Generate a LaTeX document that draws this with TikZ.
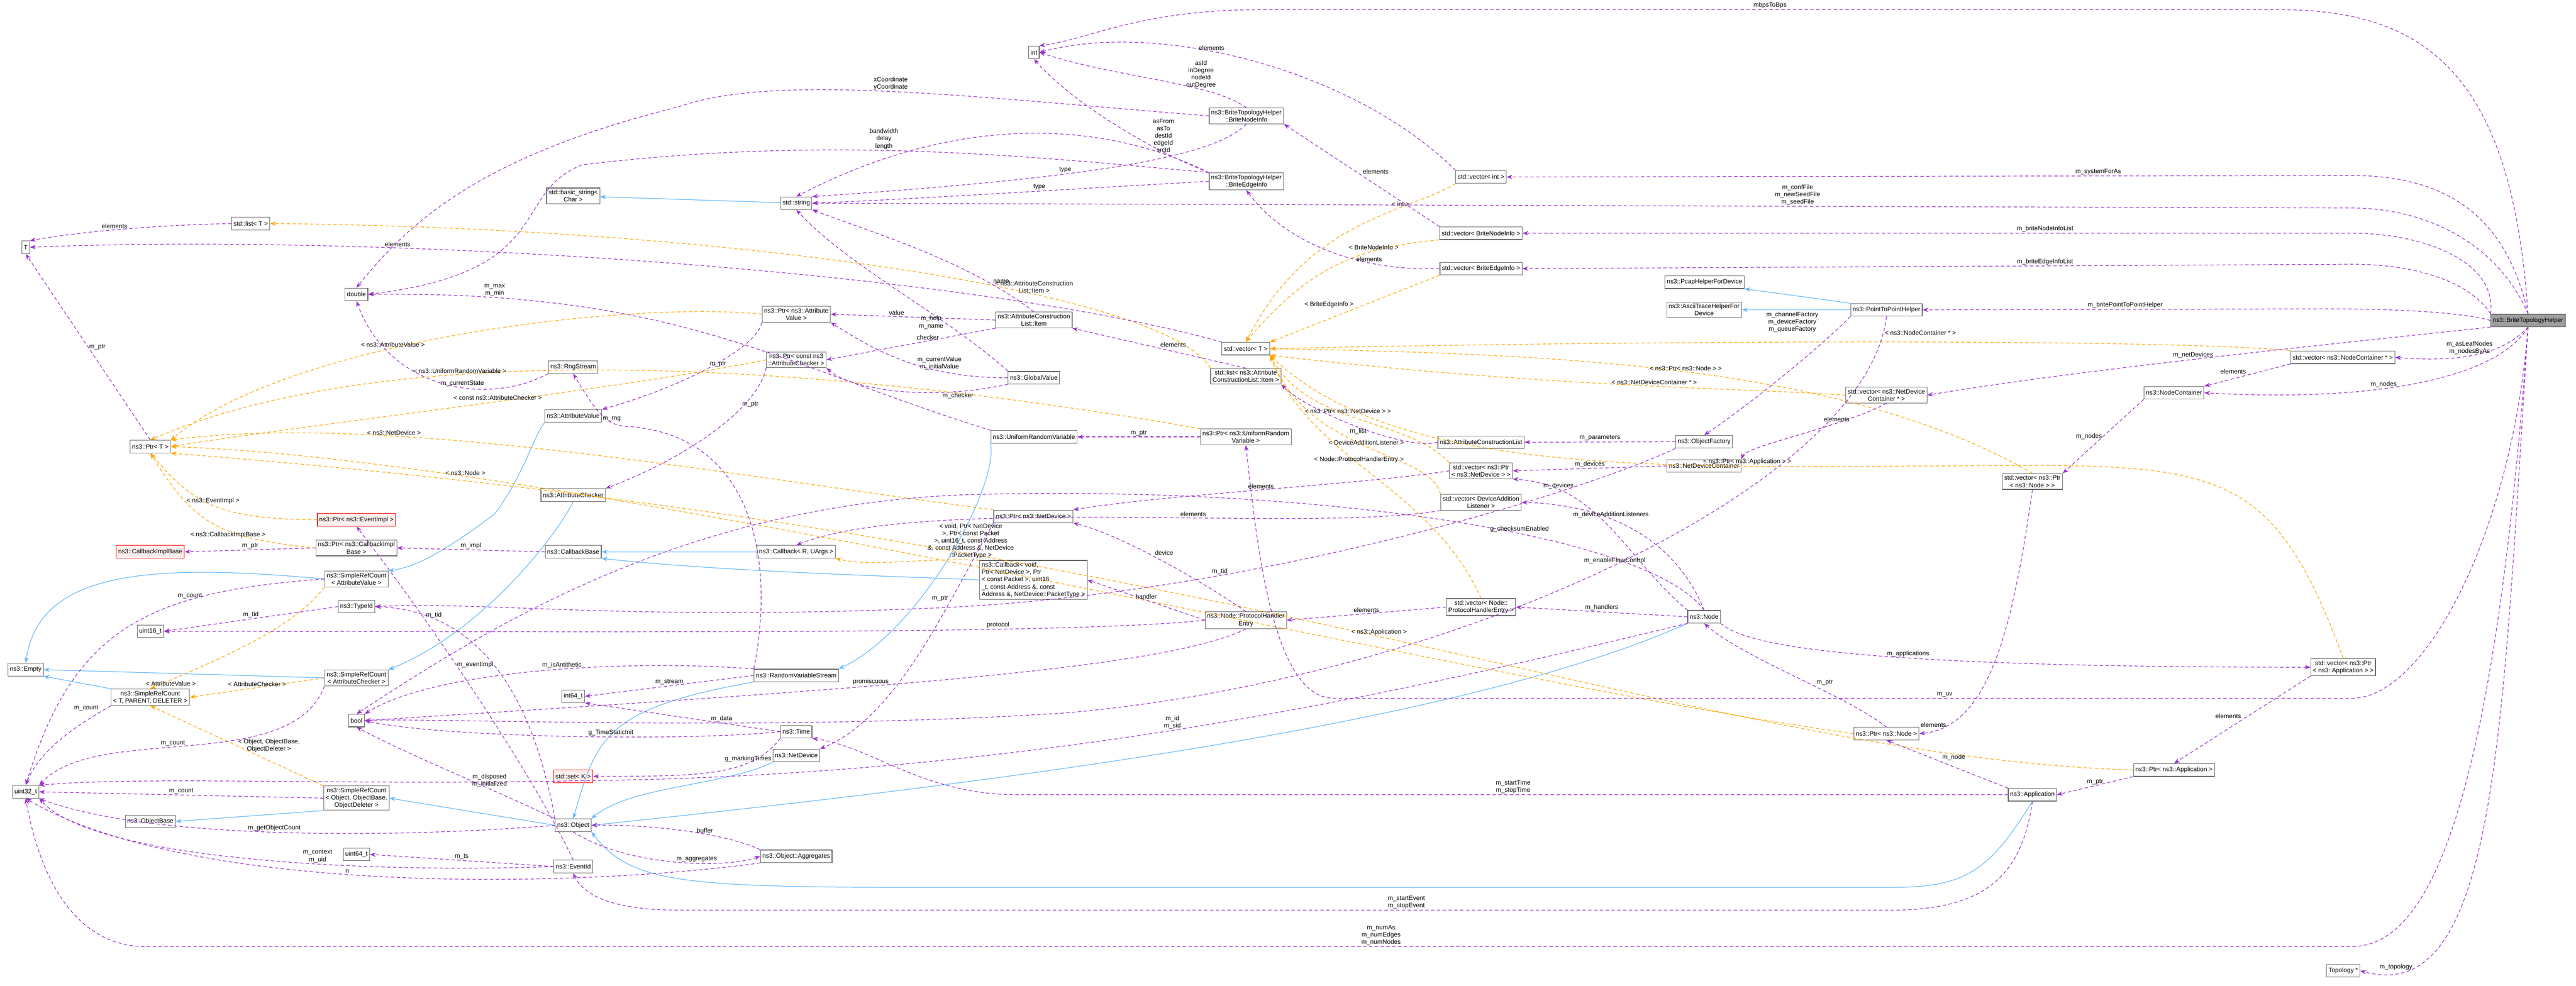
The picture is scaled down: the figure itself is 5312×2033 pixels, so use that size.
\documentclass[tikz,border=0pt]{standalone}
\usepackage{fontspec}
\setmainfont{Liberation Sans}
\usetikzlibrary{arrows.meta}
\definecolor{usec}{HTML}{9A32CD}
\definecolor{tmplc}{HTML}{FFA500}
\definecolor{inhc}{HTML}{63B8FF}
\begin{document}
\begin{tikzpicture}[x=1pt,y=-1pt,font=\fontsize{13}{15}\selectfont,
 box/.style={draw=black!60,fill=white,line width=1.2pt,minimum height=26pt,inner sep=4pt,align=center},
 redbox/.style={box,draw=red,fill=red!6},
 use/.style={draw=usec,line width=1.3pt,dash pattern=on 7pt off 5pt,-{Stealth[length=12pt,width=9pt]}},
 tmpl/.style={draw=tmplc,line width=1.3pt,dash pattern=on 7pt off 5pt,-{Stealth[length=12pt,width=9pt]}},
 inh/.style={draw=inhc,line width=1.3pt,-{Stealth[length=12pt,width=9pt]}},
 lbl/.style={inner sep=2pt,align=center,fill=none}]
\useasboundingbox (0,0) rectangle (5312,2033);
% nodes
\node[box,fill=black!38] (bth) at (5213,661) {ns3::BriteTopologyHelper};
\node[box] (int) at (2132,108) {int};
\node[box] (bni) at (2570,239) {ns3::BriteTopologyHelper\\::BriteNodeInfo};
\node[box] (bei) at (2570,374) {ns3::BriteTopologyHelper\\::BriteEdgeInfo};
\node[box] (vint) at (3054,365) {std::vector< int >};
\node[box] (vbni) at (3054,481) {std::vector< BriteNodeInfo >};
\node[box] (vbei) at (3054,554) {std::vector< BriteEdgeInfo >};
\node[box] (pcap) at (3515,582) {ns3::PcapHelperForDevice};
\node[box] (ascii) at (3514,639) {ns3::AsciiTraceHelperFor\\Device};
\node[box] (p2p) at (3890,639) {ns3::PointToPointHelper};
\node[box] (vnc) at (4831,737) {std::vector< ns3::NodeContainer * >};
\node[box] (nc) at (4483,810) {ns3::NodeContainer};
\node[box] (vndc) at (3890,815) {std::vector< ns3::NetDevice\\Container * >};
\node[box] (vpnode) at (4191,993) {std::vector< ns3::Ptr\\< ns3::Node > >};
\node[box] (vpapp) at (4832,1376) {std::vector< ns3::Ptr\\< ns3::Application > >};
\node[box] (pnode) at (3890,1513) {ns3::Ptr< ns3::Node >};
\node[box] (papp) at (4483,1588) {ns3::Ptr< ns3::Application >};
\node[box] (app) at (4191,1639) {ns3::Application};
\node[box] (topo) at (4832,2002) {Topology *};
\node[box] (T) at (53,510) {T};
\node[box] (listT) at (517,461) {std::list< T >};
\node[box] (dbl) at (735,607) {double};
\node[box] (bstr) at (1182,404) {std::basic\_string<\\Char >};
\node[box] (str) at (1642,419) {std::string};
\node[box] (pav) at (1642,648) {ns3::Ptr< ns3::Attribute\\Value >};
\node[box] (pac) at (1642,742) {ns3::Ptr< const ns3\\::AttributeChecker >};
\node[box] (rng) at (1182,757) {ns3::RngStream};
\node[box] (av) at (1182,858) {ns3::AttributeValue};
\node[box] (ptrT) at (310,921) {ns3::Ptr< T >};
\node[box] (ac) at (1182,1021) {ns3::AttributeChecker};
\node[redbox] (pev) at (735,1072) {ns3::Ptr< ns3::EventImpl >};
\node[redbox] (cib) at (310,1138) {ns3::CallbackImplBase};
\node[box] (pcib) at (735,1130) {ns3::Ptr< ns3::CallbackImpl\\Base >};
\node[box] (cbb) at (1182,1138) {ns3::CallbackBase};
\node[box] (cbr) at (1642,1138) {ns3::Callback< R, UArgs >};
\node[box] (srcav) at (735,1194) {ns3::SimpleRefCount\\< AttributeValue >};
\node[box] (tid) at (735,1251) {ns3::TypeId};
\node[box] (u16) at (310,1302) {uint16\_t};
\node[box] (empty) at (53,1381) {ns3::Empty};
\node[box] (srct) at (310,1438) {ns3::SimpleRefCount\\< T, PARENT, DELETER >};
\node[box] (srcac) at (735,1398) {ns3::SimpleRefCount\\< AttributeChecker >};
\node[box] (rvs) at (1642,1393) {ns3::RandomVariableStream};
\node[box] (i64) at (1182,1436) {int64\_t};
\node[box] (bool) at (735,1486) {bool};
\node[box] (time) at (1642,1509) {ns3::Time};
\node[box] (nd) at (1642,1558) {ns3::NetDevice};
\node[redbox] (set) at (1182,1601) {std::set< K >};
\node[box] (u32) at (53,1633) {uint32\_t};
\node[box] (srco) at (735,1646) {ns3::SimpleRefCount\\< Object, ObjectBase,\\ObjectDeleter >};
\node[box] (objb) at (310,1694) {ns3::ObjectBase};
\node[box] (obj) at (1182,1702) {ns3::Object};
\node[box] (agg) at (1642,1766) {ns3::Object::Aggregates};
\node[box] (u64) at (735,1762) {uint64\_t};
\node[box] (eid) at (1182,1787) {ns3::EventId};
\node[box] (item) at (2132,660) {ns3::AttributeConstruction\\List::Item};
\node[box] (vT) at (2569,719) {std::vector< T >};
\node[box] (gv) at (2132,779) {ns3::GlobalValue};
\node[box] (litem) at (2569,776) {std::list< ns3::Attribute\\ConstructionList::Item >};
\node[box] (urv) at (2132,901) {ns3::UniformRandomVariable};
\node[box] (purv) at (2569,901) {ns3::Ptr< ns3::UniformRandom\\Variable >};
\node[box] (acl) at (3054,912) {ns3::AttributeConstructionList};
\node[box] (of) at (3514,911) {ns3::ObjectFactory};
\node[box] (ndc) at (3514,961) {ns3::NetDeviceContainer};
\node[box] (vpnd) at (3054,971) {std::vector< ns3::Ptr\\< ns3::NetDevice > >};
\node[box] (pnd) at (2131,1065) {ns3::Ptr< ns3::NetDevice >};
\node[box] (vdal) at (3054,1036) {std::vector< DeviceAddition\\Listener >};
\node[box,align=left] (cbv) at (2131,1196) {ns3::Callback< void,\\ Ptr< NetDevice >, Ptr\\< const Packet >, uint16\\\_t, const Address \&, const\\ Address \&, NetDevice::PacketType >};
\node[box] (phe) at (2569,1279) {ns3::Node::ProtocolHandler\\Entry};
\node[box] (vphe) at (3054,1252) {std::vector< Node::\\ProtocolHandlerEntry >};
\node[box] (node) at (3514,1272) {ns3::Node};
% inheritance
\draw[inh] (str) -- (bstr);
\draw[inh] (av.south west) .. controls (1100,900) and (1080,980) .. (1020,1060) .. controls (900,1150) and (850,1170) .. (srcav.north east);
\draw[inh] (ac.south) .. controls (1150,1100) and (1000,1300) .. (srcac.north east);
\draw[inh] (srcav.west) .. controls (300,1160) and (80,1180) .. (empty.north);
\draw[inh] (srcac.west) -- (empty.east);
\draw[inh] (srct.north west) -- (empty.south east);
\draw[inh] (srco.south west) -- (objb.east);
\draw[inh] (obj.west) -- (srco.east);
\draw[inh] (cbr.west) -- (cbb.east);
\draw[inh] (cbv.west) .. controls (1900,1190) and (1500,1180) .. (cbb.south east);
\draw[inh] (rvs.south west) .. controls (1250,1460) and (1230,1520) .. (obj.north);
\draw[inh] (urv.south west) .. controls (2060,1000) and (1900,1300) .. (rvs.north east);
\draw[inh] (nd.south west) .. controls (1500,1620) and (1300,1620) .. (obj.north east);
\draw[inh] (node.south west) .. controls (3000,1500) and (2000,1620) .. (obj.east);
\draw[inh] (app.south) .. controls (4100,1800) and (4050,1830) .. (3900,1830) -- (1900,1830) .. controls (1400,1830) and (1300,1820) .. (obj.south east);
\draw[inh] (p2p.north west) -- (pcap.south east);
\draw[inh] (p2p.west) -- (ascii.east);
% template instantiations
\draw[tmpl] (vint.south west) .. controls (2900,440) and (2700,450) .. node[lbl,above,pos=0.3]{< int >} (vT.north);
\draw[tmpl] (vbni.south west) .. controls (2800,510) and (2700,550) .. node[lbl,above,pos=0.3]{< BriteNodeInfo >} (vT.north);
\draw[tmpl] (vbei.south west) -- node[lbl,above left,pos=0.5]{< BriteEdgeInfo >} (vT.north east);
\draw[tmpl] (vnc.north west) .. controls (4500,700) and (3500,700) .. (vT.east);
\node[lbl] (nclbl) at (3960,686) {< ns3::NodeContainer * >};
\draw[tmpl] (vpnode.north) .. controls (3800,750) and (3200,730) .. node[lbl,above,pos=0.5]{< ns3::Ptr< ns3::Node > >} (vT.east);
\draw[tmpl] (vndc.west) .. controls (3600,800) and (3200,800) .. node[lbl,above,pos=0.45]{< ns3::NetDeviceContainer * >} (vT.south east);
\draw[tmpl] (vpnd.north west) .. controls (2900,860) and (2700,880) .. node[lbl,above,pos=0.55]{< ns3::Ptr< ns3::NetDevice > >} (vT.south east);
\draw[tmpl] (vdal.north west) .. controls (2950,930) and (2700,940) .. node[lbl,above,pos=0.5]{< DeviceAdditionListener >} (vT.south east);
\draw[tmpl] (vphe.north) .. controls (2950,1000) and (2700,950) .. node[lbl,above,pos=0.55]{< Node::ProtocolHandlerEntry >} (vT.south east);
\draw[tmpl] (vpapp.north) .. controls (4700,1000) and (4600,960) .. (4200,960) .. controls (3500,960) and (2900,1000) .. node[lbl,above,pos=0.3]{< ns3::Ptr< ns3::Application > >} (vT.south east);
\draw[tmpl] (litem.north west) .. controls (2400,600) and (1500,470) .. node[lbl,above,pos=0.35]{< ns3::AttributeConstruction\\List::Item >} (listT.east);
\draw[tmpl] (pav.west) .. controls (1300,620) and (600,700) .. node[lbl,above,pos=0.6]{< ns3::AttributeValue >} (ptrT.north east);
\draw[tmpl] (pac.west) .. controls (1300,800) and (600,880) .. node[lbl,above,pos=0.45]{< const ns3::AttributeChecker >} (ptrT.east);
\draw[tmpl] (purv.north west) .. controls (2000,800) and (900,650) .. node[lbl,above,pos=0.7]{< ns3::UniformRandomVariable >} (ptrT.north);
\draw[tmpl] (pnd.north west) .. controls (1500,980) and (800,850) .. node[lbl,above,pos=0.7]{< ns3::NetDevice >} (ptrT.north east);
\draw[tmpl] (pnode.west) .. controls (3000,1400) and (1200,950) .. node[lbl,above,pos=0.8]{< ns3::Node >} (ptrT.east);
\draw[tmpl] (papp.west) .. controls (3500,1560) and (2500,1100) .. node[lbl,above,pos=0.5]{< ns3::Application >} (ptrT.south east);
\draw[tmpl] (pev.west) .. controls (450,1070) and (400,1040) .. node[lbl,above,pos=0.5]{< ns3::EventImpl >} (ptrT.south);
\draw[tmpl] (pcib.west) .. controls (450,1110) and (400,1080) .. node[lbl,below,pos=0.4]{< ns3::CallbackImplBase >} (ptrT.south);
\draw[tmpl] (srcav.south west) .. controls (600,1300) and (450,1360) .. node[lbl,below,pos=0.9]{< AttributeValue >} (srct.north);
\draw[tmpl] (srcac.west) -- node[lbl,above]{< AttributeChecker >} (srct.east);
\draw[tmpl] (srco.north west) -- node[lbl,right,pos=0.5]{< Object, ObjectBase,\\ObjectDeleter >} (srct.south);
\draw[tmpl] (cbv.north west) .. controls (1900,1150) and (1800,1170) .. node[lbl,above,pos=0.05]{< void, Ptr< NetDevice\\>, Ptr< const Packet\\>, uint16\_t, const Address\\\&, const Address \&, NetDevice\\::PacketType >} (cbr.south east);
% usage from BriteTopologyHelper
\draw[use] (bth.north) .. controls (5180,150) and (5000,20) .. (4700,20) -- node[lbl,above]{mbpsToBps} (2600,20) .. controls (2350,20) and (2250,80) .. (int.north east);
\draw[use] (bth.north) .. controls (5170,450) and (5050,362) .. (4850,362) -- node[lbl,above,pos=0.3]{m\_systemForAs} (vint.east);
\draw[use] (bth.north) .. controls (5150,500) and (5000,429) .. (4850,429) -- node[lbl,above,pos=0.36]{m\_confFile\\m\_newSeedFile\\m\_seedFile} (str.east);
\draw[use] (bth.north west) .. controls (5150,540) and (5000,481) .. (4850,481) -- node[lbl,above,pos=0.37]{m\_briteNodeInfoList} (vbni.east);
\draw[use] (bth.north west) .. controls (5100,590) and (5000,545) .. (4850,545) -- node[lbl,above,pos=0.37]{m\_briteEdgeInfoList} (vbei.east);
\draw[use] (bth.west) .. controls (5100,650) and (5000,637) .. (4800,637) -- node[lbl,above]{m\_britePointToPointHelper} (p2p.east);
\draw[use] (bth.south west) .. controls (4900,700) and (4300,760) .. node[lbl,above,pos=0.55]{m\_netDevices} (vndc.east);
\draw[use] (bth.south) .. controls (5170,720) and (5100,750) .. node[lbl,above,pos=0.6]{m\_asLeafNodes\\m\_nodesByAs} (vnc.east);
\draw[use] (bth.south) .. controls (5150,780) and (4900,830) .. node[lbl,above,pos=0.6]{m\_nodes} (nc.east);
\draw[use] (bth.south) .. controls (5180,1100) and (5000,1440) .. (4850,1440) -- node[lbl,above,pos=0.4]{m\_uv} (2750,1440) .. controls (2620,1440) and (2590,1100) .. (purv.south);
\draw[use] (bth.south) .. controls (5140,1700) and (5000,1952) .. (4850,1952) -- node[lbl,above,pos=0.44]{m\_numAs\\m\_numEdges\\m\_numNodes} (300,1952) .. controls (150,1952) and (80,1800) .. (u32.south);
\draw[use] (bth.south) .. controls (5160,1500) and (5150,2080) .. node[lbl,left,pos=0.85]{m\_topology} (topo.east);
% application & node side
\draw[use] (app.west) -- node[lbl,above,pos=0.5]{m\_startTime\\m\_stopTime} (2100,1639) .. controls (1900,1639) and (1800,1540) .. (time.south east);
\draw[use] (app.south) .. controls (4170,1800) and (4100,1877) .. (3900,1877) -- node[lbl,above,pos=0.4]{m\_startEvent\\m\_stopEvent} (1400,1877) .. controls (1250,1877) and (1200,1840) .. (eid.south);
\draw[use] (app.north west) -- node[lbl,above right,pos=0.55]{m\_node} (pnode.south);
\draw[use] (papp.south west) -- node[lbl,above]{m\_ptr} (app.east);
\draw[use] (vpapp.south west) -- node[lbl,above left]{elements} (papp.north);
\draw[use] (node.south east) .. controls (3600,1330) and (3800,1376) .. node[lbl,above,pos=0.6]{m\_applications} (vpapp.west);
\draw[use] (pnode.north) .. controls (3800,1430) and (3600,1360) .. node[lbl,above right,pos=0.4]{m\_ptr} (node.south);
\draw[use] (vpnode.south) .. controls (4150,1300) and (4100,1500) .. node[lbl,left,pos=0.85]{elements} (pnode.east);
\draw[use] (nc.south west) -- node[lbl,left]{m\_nodes} (vpnode.north east);
\draw[use] (vnc.south west) -- node[lbl,above left]{elements} (nc.north east);
\draw[use] (vndc.south) .. controls (3800,880) and (3600,920) .. node[lbl,above,pos=0.3]{elements} (ndc.north east);
\draw[use] (ndc.west) -- node[lbl,above]{m\_devices} (vpnd.east);
\draw[use] (node.north west) .. controls (3350,1150) and (3300,1000) .. node[lbl,above,pos=0.8]{m\_devices} (vpnd.south east);
\draw[use] (vpnd.west) .. controls (2800,1000) and (2400,1020) .. node[lbl,above,pos=0.5]{elements} (pnd.north east);
\draw[use] (pnd.south west) .. controls (1950,1250) and (1850,1480) .. node[lbl,above left,pos=0.3]{m\_ptr} (nd.north east);
\draw[use] (p2p.south west) .. controls (3750,720) and (3600,840) .. (of.north);
\node[lbl] (cflbl) at (3696,664) {m\_channelFactory\\m\_deviceFactory\\m\_queueFactory};
\draw[use] (of.west) -- node[lbl,above]{m\_parameters} (acl.east);
\draw[use] (of.south west) .. controls (3300,1000) and (2600,1230) .. node[lbl,above,pos=0.7]{m\_tid} (1900,1255) .. controls (1300,1280) and (1000,1240) .. (tid.east);
\draw[use] (acl.west) .. controls (2900,930) and (2700,850) .. node[lbl,below,pos=0.5]{m\_list} (litem.south east);
\draw[use] (litem.north) -- node[lbl,above right]{elements} (item.south east);
\draw[use] (item.north) .. controls (2000,540) and (1800,480) .. node[lbl,above right,pos=0.2]{name} (str.south east);
\draw[use] (item.west) -- node[lbl,above,pos=0.6]{value} (pav.east);
\draw[use] (item.south west) -- node[lbl,above,pos=0.4]{checker} (pac.east);
\draw[use] (gv.north west) .. controls (1950,650) and (1750,550) .. node[lbl,left,pos=0.3]{m\_help\\m\_name} (str.south);
\draw[use] (gv.west) .. controls (1900,780) and (1800,720) .. node[lbl,above,pos=0.3]{m\_currentValue\\m\_initialValue} (pav.south east);
\draw[use] (gv.south west) .. controls (1900,830) and (1750,800) .. node[lbl,below,pos=0.2]{m\_checker} (pac.south east);
\draw[use] (pav.south west) .. controls (1560,720) and (1400,800) .. node[lbl,above right,pos=0.5]{m\_ptr} (av.north east);
\draw[use] (pac.south west) .. controls (1560,850) and (1400,950) .. node[lbl,above right,pos=0.3]{m\_ptr} (ac.north east);
\draw[use] (urv.north west) .. controls (1600,750) and (1400,600) .. node[lbl,above,pos=0.85]{m\_max\\m\_min} (dbl.east);
\draw[use] (purv.west) -- node[lbl,above]{m\_ptr} (urv.east);
\draw[use] (rng.south west) .. controls (1000,840) and (800,800) .. node[lbl,above,pos=0.4]{m\_currentState} (dbl.south);
\draw[use] (rvs.north west) .. controls (1600,1150) and (1550,900) .. (1300,880) .. controls (1250,880) and (1230,850) .. node[lbl,above,pos=0.3]{m\_rng} (rng.south);
\draw[use] (rvs.west) -- node[lbl,above]{m\_stream} (i64.east);
\draw[use] (rvs.north west) .. controls (1300,1360) and (900,1380) .. node[lbl,above,pos=0.45]{m\_isAntithetic} (bool.north east);
\draw[use] (time.west) -- node[lbl,above,pos=0.3]{m\_data} (i64.south east);
\draw[use] (time.west) .. controls (1400,1530) and (900,1520) .. node[lbl,above,pos=0.4]{g\_TimeStaticInit} (bool.east);
\draw[use] (time.south west) .. controls (1550,1600) and (1450,1601) .. node[lbl,above,pos=0.3]{g\_markingTimes} (set.east);
\draw[use] (phe.south) .. controls (2400,1380) and (1800,1420) .. node[lbl,above,pos=0.6]{promiscuous} (bool.east);
\draw[use] (node.north) .. controls (3400,1100) and (2700,1000) .. node[lbl,above,pos=0.4]{g\_checksumEnabled} (2000,1020) .. controls (1400,1040) and (1000,1300) .. (bool.north);
\draw[use] (p2p.south) .. controls (3850,1000) and (3000,1400) .. node[lbl,above,pos=0.5]{m\_enableFlowControl} (2200,1470) .. controls (1600,1510) and (900,1480) .. (bool.east);
\draw[use] (phe.west) .. controls (2200,1310) and (1200,1302) .. node[lbl,above,pos=0.3]{protocol} (u16.east);
\draw[use] (phe.north) .. controls (2450,1180) and (2300,1100) .. node[lbl,above right,pos=0.5]{device} (pnd.south east);
\draw[use] (phe.west) -- node[lbl,above]{handler} (cbv.east);
\draw[use] (vphe.west) -- node[lbl,above]{elements} (phe.east);
\draw[use] (node.west) -- node[lbl,above]{m\_handlers} (vphe.east);
\draw[use] (node.north) .. controls (3450,1100) and (3300,1040) .. node[lbl,above,pos=0.6]{m\_deviceAdditionListeners} (vdal.east);
\draw[use] (node.south west) .. controls (3000,1400) and (2200,1600) .. node[lbl,above,pos=0.55]{m\_id\\m\_sid} (1200,1610) .. controls (700,1620) and (300,1600) .. (u32.north east);
\draw[use] (vdal.south west) .. controls (2700,1100) and (1900,1020) .. node[lbl,above,pos=0.4]{elements} (cbr.north);
\draw[use] (cbb.west) -- node[lbl,above]{m\_impl} (pcib.east);
\draw[use] (pcib.west) -- node[lbl,above]{m\_ptr} (cib.east);
\draw[use] (eid.north) .. controls (1100,1600) and (900,1300) .. node[lbl,right,pos=0.6]{m\_eventImpl} (pev.south);
\draw[use] (eid.west) -- node[lbl,above]{m\_ts} (u64.east);
\draw[use] (eid.west) .. controls (800,1800) and (200,1780) .. node[lbl,above,pos=0.4]{m\_context\\m\_uid} (u32.south east);
\draw[use] (obj.north west) .. controls (1000,1620) and (850,1560) .. node[lbl,right,pos=0.4]{m\_disposed\\m\_initialized} (bool.south);
\draw[use] (obj.west) .. controls (800,1730) and (300,1730) .. node[lbl,above,pos=0.5]{m\_getObjectCount} (u32.south east);
\draw[use] (obj.south) .. controls (1300,1790) and (1500,1790) .. node[lbl,above,pos=0.6]{m\_aggregates} (agg.west);
\draw[use] (agg.north west) .. controls (1500,1720) and (1350,1700) .. node[lbl,above,pos=0.4]{buffer} (obj.east);
\draw[use] (agg.south west) .. controls (1200,1830) and (400,1850) .. node[lbl,above,pos=0.55]{n} (u32.south);
\draw[use] (srcav.west) .. controls (300,1220) and (150,1300) .. node[lbl,above,pos=0.3]{m\_count} (u32.north);
\draw[use] (srct.south west) .. controls (150,1500) and (80,1550) .. node[lbl,above left,pos=0.1]{m\_count} (u32.north);
\draw[use] (srcac.south west) .. controls (600,1600) and (200,1490) .. node[lbl,above,pos=0.55]{m\_count} (u32.north east);
\draw[use] (srco.west) -- node[lbl,above]{m\_count} (u32.east);
\draw[use] (tid.west) -- node[lbl,above]{m\_tid} (u16.east);
\draw[use] (obj.north west) .. controls (1100,1450) and (1000,1260) .. node[lbl,above,pos=0.8]{m\_tid} (tid.east);
\draw[use] (ptrT.north) -- node[lbl,right]{m\_ptr} (T.south);
\draw[use] (listT.west) .. controls (300,465) and (150,480) .. node[lbl,above]{elements} (T.north east);
\draw[use] (vT.north west) .. controls (2000,560) and (800,480) .. node[lbl,above,pos=0.7]{elements} (T.east);
\draw[use] (bni.north) .. controls (2500,170) and (2300,160) .. node[lbl,above,pos=0.3]{asId\\inDegree\\nodeId\\outDegree} (int.east);
\draw[use] (bei.north west) .. controls (2350,300) and (2200,200) .. (int.south);
\draw[use] (bei.north west) .. controls (2300,260) and (2000,220) .. node[lbl,above,pos=0.15]{asFrom\\asTo\\destId\\edgeId\\srcId} (str.north);
\draw[use] (bni.south) .. controls (2500,330) and (2200,370) .. node[lbl,above,pos=0.6]{type} (str.north east);
\draw[use] (bei.west) .. controls (2200,390) and (1900,410) .. node[lbl,above,pos=0.4]{type} (str.east);
\draw[use] (bni.west) .. controls (2000,200) and (1600,150) .. node[lbl,above,pos=0.5]{xCoordinate\\yCoordinate} (1400,220) .. controls (1000,320) and (850,450) .. (dbl.north);
\draw[use] (bei.north west) .. controls (2100,320) and (1700,280) .. node[lbl,above,pos=0.55]{bandwidth\\delay\\length} (1200,340) .. controls (1050,400) and (1150,560) .. (dbl.east);
\draw[use] (vint.north west) .. controls (2800,150) and (2400,40) .. node[lbl,above,pos=0.6]{elements} (int.east);
\draw[use] (vbni.north west) -- node[lbl,above right,pos=0.5]{elements} (bni.south east);
\draw[use] (vbei.west) .. controls (2800,560) and (2650,500) .. node[lbl,above,pos=0.3]{elements} (bei.south);
\end{tikzpicture}
\end{document}
